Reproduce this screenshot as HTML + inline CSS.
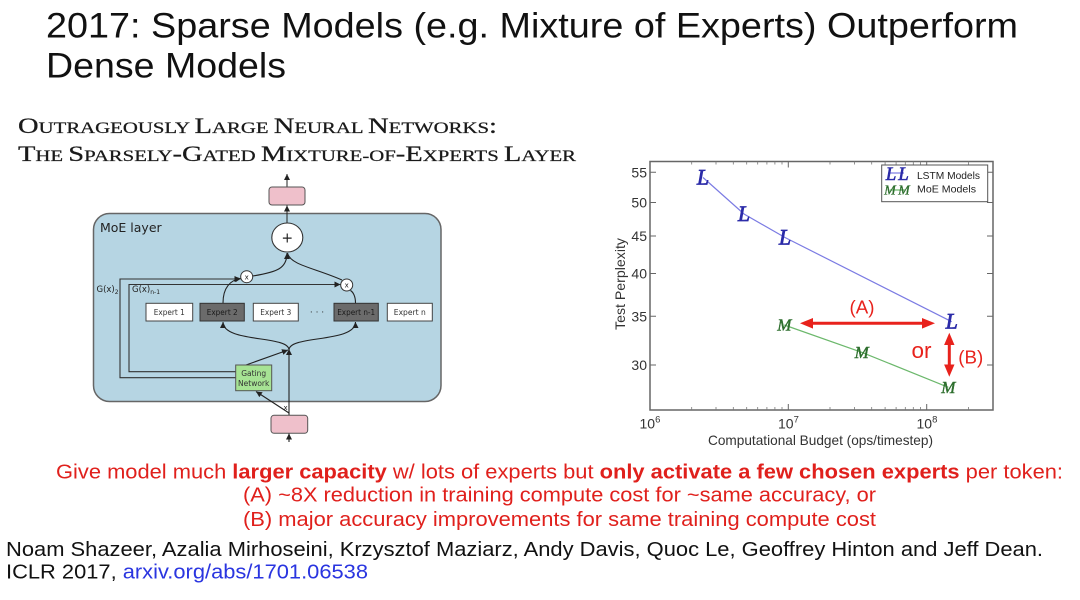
<!DOCTYPE html>
<html>
<head>
<meta charset="utf-8">
<style>
html,body{margin:0;padding:0;background:#fff;}
svg{display:block;}
</style>
</head>
<body>
<svg width="1080" height="600" viewBox="0 0 1080 600" xmlns="http://www.w3.org/2000/svg">
<defs>
<marker id="ah" viewBox="0 0 10 10" refX="10" refY="5" markerWidth="6" markerHeight="6" orient="auto" markerUnits="userSpaceOnUse">
<path d="M0,0 L10,5 L0,10 z" fill="#222"/>
</marker>
</defs>
<rect width="1080" height="600" fill="#fff"/>

<!-- Slide title -->
<g font-family="Liberation Sans, Arial, sans-serif" fill="#111">
<text x="46" y="37.5" font-size="35" textLength="972" lengthAdjust="spacingAndGlyphs">2017: Sparse Models (e.g. Mixture of Experts) Outperform</text>
<text x="46" y="77.5" font-size="35" textLength="240" lengthAdjust="spacingAndGlyphs">Dense Models</text>
</g>

<!-- Paper title (small caps) -->
<g font-family="Liberation Serif, 'Times New Roman', serif" fill="#1a1a1a" stroke="#1a1a1a" stroke-width="0.25">
<text x="18" y="133" textLength="479" lengthAdjust="spacingAndGlyphs"><tspan font-size="22">O</tspan><tspan font-size="16">UTRAGEOUSLY </tspan><tspan font-size="22">L</tspan><tspan font-size="16">ARGE </tspan><tspan font-size="22">N</tspan><tspan font-size="16">EURAL </tspan><tspan font-size="22">N</tspan><tspan font-size="16">ETWORKS</tspan><tspan font-size="22">:</tspan></text>
<text x="18" y="161" textLength="558" lengthAdjust="spacingAndGlyphs"><tspan font-size="22">T</tspan><tspan font-size="16">HE </tspan><tspan font-size="22">S</tspan><tspan font-size="16">PARSELY</tspan><tspan font-size="22">-G</tspan><tspan font-size="16">ATED </tspan><tspan font-size="22">M</tspan><tspan font-size="16">IXTURE-OF</tspan><tspan font-size="22">-E</tspan><tspan font-size="16">XPERTS </tspan><tspan font-size="22">L</tspan><tspan font-size="16">AYER</tspan></text>
</g>

<!-- MoE diagram -->
<g font-family="DejaVu Sans, Liberation Sans, sans-serif">
<line x1="287" y1="206" x2="287" y2="174" stroke="#222" stroke-width="1" marker-end="url(#ah)"/>
<rect x="269" y="187" width="36" height="18" rx="3" fill="#efc0cb" stroke="#555" stroke-width="1"/>
<rect x="93.5" y="213.5" width="347.5" height="188" rx="16" fill="#b6d5e3" stroke="#666" stroke-width="1.5"/>
<text x="100" y="232" font-size="12.5" fill="#222">MoE layer</text>

<line x1="287" y1="223" x2="287" y2="205.5" stroke="#222" stroke-width="1" marker-end="url(#ah)"/>

<!-- G lines -->
<path d="M235.7,377.7 L120,377.7 L120,279 L240.5,279" fill="none" stroke="#333" stroke-width="1.1" marker-end="url(#ah)"/>
<path d="M235.7,371.7 L129,371.7 L129,284.5 L340.5,284.5" fill="none" stroke="#333" stroke-width="1.1" marker-end="url(#ah)"/>
<text x="96.5" y="292" font-size="8.5" fill="#222">G(x)<tspan font-size="6" dy="2">2</tspan></text>
<text x="132" y="292" font-size="8.5" fill="#222">G(x)<tspan font-size="6" dy="2">n-1</tspan></text>

<!-- curves -->
<path d="M223,303 C223,288 230,280 241,278.5" fill="none" stroke="#222" stroke-width="1.1" marker-end="url(#ah)"/>
<path d="M252.5,276 C278,272 287,268 287,253" fill="none" stroke="#222" stroke-width="1.1" marker-end="url(#ah)"/>
<path d="M355.5,303 C355.5,296 353,292 350.5,290.5" fill="none" stroke="#222" stroke-width="1.1"/>
<path d="M342,280 C315,268 290,265 287.5,253" fill="none" stroke="#222" stroke-width="1.1"/>
<path d="M289,350 C289,335 223,343 223,322" fill="none" stroke="#222" stroke-width="1.1" marker-end="url(#ah)"/>
<path d="M289,350 C289,335 355.5,343 355.5,322" fill="none" stroke="#222" stroke-width="1.1" marker-end="url(#ah)"/>
<line x1="289" y1="415" x2="289" y2="349" stroke="#222" stroke-width="1.1" marker-end="url(#ah)"/>
<line x1="289" y1="413" x2="256" y2="391.5" stroke="#222" stroke-width="1.1" marker-end="url(#ah)"/>
<line x1="246" y1="365" x2="288" y2="350" stroke="#222" stroke-width="1.1" marker-end="url(#ah)"/>
<line x1="289" y1="442" x2="289" y2="433.5" stroke="#222" stroke-width="1.1" marker-end="url(#ah)"/>
<text x="283.5" y="410" font-size="7" fill="#222">x</text>

<!-- plus -->
<ellipse cx="287.3" cy="237.5" rx="15.5" ry="14.5" fill="#fff" stroke="#333" stroke-width="1.1"/>
<text x="287.3" y="242.5" font-size="14" text-anchor="middle" fill="#222">+</text>
<!-- x circles -->
<circle cx="246.7" cy="276.7" r="6" fill="#fff" stroke="#333" stroke-width="1"/>
<text x="246.7" y="279.3" font-size="7" text-anchor="middle" fill="#222">x</text>
<circle cx="346.7" cy="285" r="6" fill="#fff" stroke="#333" stroke-width="1"/>
<text x="346.7" y="287.6" font-size="7" text-anchor="middle" fill="#222">x</text>

<!-- experts -->
<g font-size="7.5" text-anchor="middle">
<rect x="146" y="303.3" width="46.7" height="17.7" fill="#fff" stroke="#444" stroke-width="1"/>
<text x="169.3" y="315" fill="#333" textLength="31" lengthAdjust="spacingAndGlyphs">Expert 1</text>
<rect x="200" y="303.3" width="44.3" height="17.7" fill="#6b6b6b" stroke="#333" stroke-width="1"/>
<text x="222.2" y="315" fill="#1a1a1a" textLength="31" lengthAdjust="spacingAndGlyphs">Expert 2</text>
<rect x="253.3" y="303.3" width="45" height="17.7" fill="#fff" stroke="#444" stroke-width="1"/>
<text x="275.8" y="315" fill="#333" textLength="31" lengthAdjust="spacingAndGlyphs">Expert 3</text>
<text x="317" y="315" fill="#333" font-size="9">· · ·</text>
<rect x="334" y="303.3" width="44.3" height="17.7" fill="#6b6b6b" stroke="#333" stroke-width="1"/>
<text x="356.2" y="315" fill="#1a1a1a" textLength="38" lengthAdjust="spacingAndGlyphs">Expert n-1</text>
<rect x="387.3" y="303.3" width="45" height="17.7" fill="#fff" stroke="#444" stroke-width="1"/>
<text x="409.8" y="315" fill="#333" textLength="32" lengthAdjust="spacingAndGlyphs">Expert n</text>
</g>

<!-- gating -->
<rect x="235.7" y="365" width="36" height="25.7" fill="#a6e394" stroke="#555" stroke-width="1"/>
<text x="253.7" y="376" font-size="7.5" text-anchor="middle" fill="#333">Gating</text>
<text x="253.7" y="386" font-size="7.5" text-anchor="middle" fill="#333">Network</text>

<rect x="271" y="415.3" width="36.7" height="18" rx="3" fill="#efc0cb" stroke="#555" stroke-width="1"/>
</g>

<!-- Chart -->
<g font-family="Liberation Sans, Arial, sans-serif">
<rect x="650" y="161.5" width="343" height="248.5" fill="#fff" stroke="#666" stroke-width="1.5"/>
<!-- x major ticks -->
<g stroke="#666" stroke-width="1">
<line x1="788.3" y1="410" x2="788.3" y2="404"/><line x1="926.7" y1="410" x2="926.7" y2="404"/>
<line x1="788.3" y1="161.5" x2="788.3" y2="167.5"/><line x1="926.7" y1="161.5" x2="926.7" y2="167.5"/>
</g>
<!-- x minor ticks -->
<g stroke="#777" stroke-width="0.8">
<path d="M691.7,410v-3M716,410v-3M733.3,410v-3M746.7,410v-3M757.7,410v-3M766.9,410v-3M774.9,410v-3M782,410v-3M830,410v-3M854.4,410v-3M871.7,410v-3M885.1,410v-3M896.1,410v-3M905.3,410v-3M913.3,410v-3M920.4,410v-3M968.4,410v-3"/>
<path d="M691.7,161.5v3M716,161.5v3M733.3,161.5v3M746.7,161.5v3M757.7,161.5v3M766.9,161.5v3M774.9,161.5v3M782,161.5v3M830,161.5v3M854.4,161.5v3M871.7,161.5v3M885.1,161.5v3M896.1,161.5v3M905.3,161.5v3M913.3,161.5v3M920.4,161.5v3M968.4,161.5v3"/>
</g>
<!-- y ticks -->
<g stroke="#666" stroke-width="1">
<path d="M650,172.3h6M650,202.5h6M650,236h6M650,273.5h6M650,316.3h6M650,365h6"/>
<path d="M993,172.3h-6M993,202.5h-6M993,236h-6M993,273.5h-6M993,316.3h-6M993,365h-6"/>
</g>
<g font-size="14" fill="#333" text-anchor="end">
<text x="647" y="177.3">55</text>
<text x="647" y="207.5">50</text>
<text x="647" y="241">45</text>
<text x="647" y="278.5">40</text>
<text x="647" y="321.3">35</text>
<text x="647" y="370">30</text>
</g>
<g font-size="14" fill="#333">
<text x="639.5" y="428.5">10<tspan font-size="9.5" dy="-6">6</tspan></text>
<text x="778" y="428.5">10<tspan font-size="9.5" dy="-6">7</tspan></text>
<text x="916.5" y="428.5">10<tspan font-size="9.5" dy="-6">8</tspan></text>
</g>
<text x="708" y="445" font-size="14" fill="#333" textLength="225" lengthAdjust="spacingAndGlyphs">Computational Budget (ops/timestep)</text>
<text transform="translate(625,284) rotate(-90)" font-size="14" fill="#333" text-anchor="middle" textLength="92" lengthAdjust="spacingAndGlyphs">Test Perplexity</text>

<!-- series -->
<polyline points="703,177.5 744,214 785,237.5 951.7,321.7" fill="none" stroke="#7b7be3" stroke-width="1.2"/>
<polyline points="784.3,325 861.7,352.3 948.3,387.3" fill="none" stroke="#6cb86c" stroke-width="1.2"/>
<g font-family="Liberation Serif, 'Times New Roman', serif" font-style="italic" text-anchor="middle">
<g fill="#2b2ba8" stroke="#2b2ba8" stroke-width="0.7" font-size="22">
<text x="703" y="184.5">L</text>
<text x="744" y="221">L</text>
<text x="785" y="244.5">L</text>
<text x="951.7" y="328.7">L</text>
</g>
<g fill="#2d6e2d" stroke="#2d6e2d" stroke-width="0.4" font-size="17">
<text x="784.3" y="330.5">M</text>
<text x="861.7" y="357.8">M</text>
<text x="948.3" y="392.8">M</text>
</g>
</g>

<!-- legend -->
<rect x="881.7" y="165" width="106" height="36.7" fill="#fff" stroke="#555" stroke-width="1"/>
<line x1="890" y1="173" x2="904" y2="173" stroke="#7b7be3" stroke-width="1.2"/>
<line x1="890" y1="190" x2="905" y2="190" stroke="#6cb86c" stroke-width="1.2"/>
<g font-family="Liberation Serif, 'Times New Roman', serif" font-style="italic" text-anchor="middle">
<text x="891" y="180" font-size="19" fill="#2b2ba8" stroke="#2b2ba8" stroke-width="0.6">L</text>
<text x="903.5" y="180" font-size="19" fill="#2b2ba8" stroke="#2b2ba8" stroke-width="0.6">L</text>
<text x="890" y="194.5" font-size="14" fill="#2d6e2d" stroke="#2d6e2d" stroke-width="0.3">M</text>
<text x="904" y="194.5" font-size="14" fill="#2d6e2d" stroke="#2d6e2d" stroke-width="0.3">M</text>
</g>
<text x="917" y="179" font-size="10.5" fill="#222" textLength="63" lengthAdjust="spacingAndGlyphs">LSTM Models</text>
<text x="917" y="192.7" font-size="10.5" fill="#222" textLength="59" lengthAdjust="spacingAndGlyphs">MoE Models</text>

<!-- red annotations -->
<g fill="#e8221c">
<polygon points="800,323.3 813,318 813,321.8 922,321.8 922,318 935,323.3 922,328.6 922,324.8 813,324.8 813,328.6"/>
<polygon points="949.3,332.7 954.5,345 950.8,345 950.8,364.5 954.5,364.5 949.3,376.7 944.1,364.5 947.8,364.5 947.8,345 944.1,345"/>
<text x="862" y="313.3" font-size="18.5" text-anchor="middle" textLength="25" lengthAdjust="spacingAndGlyphs">(A)</text>
<text x="921.5" y="358" font-size="22" text-anchor="middle" textLength="20" lengthAdjust="spacingAndGlyphs">or</text>
<text x="970.8" y="363.3" font-size="18.5" text-anchor="middle" textLength="25" lengthAdjust="spacingAndGlyphs">(B)</text>
</g>
</g>

<!-- bottom text -->
<g font-family="Liberation Sans, Arial, sans-serif" font-size="20">
<text x="56" y="478.3" fill="#e0201c" textLength="1007" lengthAdjust="spacingAndGlyphs">Give model much <tspan font-weight="bold">larger capacity</tspan> w/ lots of experts but <tspan font-weight="bold">only activate a few chosen experts</tspan> per token:</text>
<text x="243" y="501.7" fill="#e0201c" textLength="633" lengthAdjust="spacingAndGlyphs">(A) ~8X reduction in training compute cost for ~same accuracy, or</text>
<text x="243" y="526" fill="#e0201c" textLength="633" lengthAdjust="spacingAndGlyphs">(B) major accuracy improvements for same training compute cost</text>
<text x="6" y="556" fill="#111" textLength="1037" lengthAdjust="spacingAndGlyphs">Noam Shazeer, Azalia Mirhoseini, Krzysztof Maziarz, Andy Davis, Quoc Le, Geoffrey Hinton and Jeff Dean.</text>
<text x="6" y="578.3" fill="#111" textLength="362" lengthAdjust="spacingAndGlyphs">ICLR 2017, <tspan fill="#2a35e0">arxiv.org/abs/1701.06538</tspan></text>
</g>
</svg>
</body>
</html>
